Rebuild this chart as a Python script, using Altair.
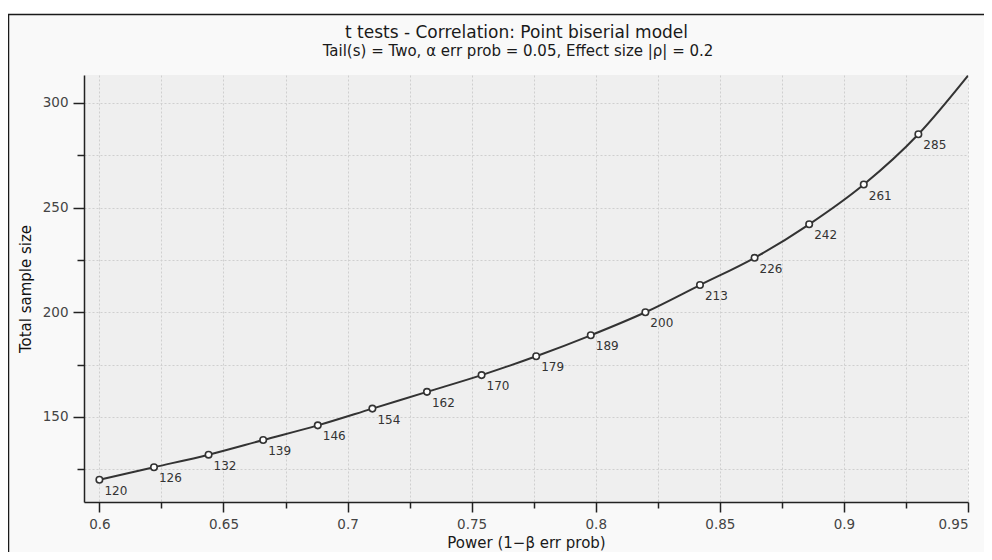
import altair as alt
import pandas as pd

# Data
power = [0.6, 0.622, 0.644, 0.666, 0.688, 0.71, 0.732, 0.754, 0.776, 0.798,
         0.82, 0.842, 0.864, 0.886, 0.908, 0.93]
total_n = [120, 126, 132, 139, 146, 154, 162, 170, 179, 189,
           200, 213, 226, 242, 261, 285]
# curve continues to the right edge of the plot
curve_end_power = 0.95
curve_end_n = 313

x_ticks = [0.6, 0.625, 0.65, 0.675, 0.7, 0.725, 0.75, 0.775, 0.8, 0.825,
           0.85, 0.875, 0.9, 0.925, 0.95]
y_ticks = [125, 150, 175, 200, 225, 250, 275, 300]
x_domain = [0.5938, 0.95]
y_domain = [109.4, 313.3]

title_text = "t tests - Correlation: Point biserial model"
subtitle_text = "Tail(s) = Two, α err prob = 0.05, Effect size |ρ| = 0.2"

W, H = 884, 427
FONT = "DejaVu Sans"

pts = pd.DataFrame({"power": power, "n": total_n})
curve = pd.DataFrame({"power": power + [curve_end_power],
                      "n": total_n + [curve_end_n]})
one = pd.DataFrame({"k": [0]})

major_x = "abs(datum.value*20 - round(datum.value*20)) < 1e-6"
major_y = "datum.value % 50 == 0"

xscale = alt.Scale(domain=x_domain, nice=False, zero=False)
yscale = alt.Scale(domain=y_domain, nice=False, zero=False)

xaxis = alt.Axis(
    values=x_ticks, title="Power (1−β err prob)", format="~g",
    labelExpr=f"{major_x} ? datum.label : ''",
    tickSize={"condition": {"test": major_x, "value": 10}, "value": 6},
    grid=True, gridDash=[2, 2], gridColor="#cfcfcf", gridWidth=1,
    domainColor="#222", domainWidth=1.5, tickColor="#222", tickWidth=1.5,
    labelFont=FONT, labelFontSize=13.5, labelColor="#444", labelPadding=5,
    titleFont=FONT, titleFontSize=15, titleFontWeight="normal", titleColor="#1a1a1a",
    titlePadding=5,
)
yaxis = alt.Axis(
    values=y_ticks, title="Total sample size",
    labelExpr=f"{major_y} ? datum.label : ''",
    tickSize={"condition": {"test": major_y, "value": 11}, "value": 7},
    grid=True, gridDash=[2, 2], gridColor="#cfcfcf", gridWidth=1,
    domainColor="#222", domainWidth=1.5, tickColor="#222", tickWidth=1.5,
    labelFont=FONT, labelFontSize=13.5, labelColor="#444", labelPadding=5,
    titleFont=FONT, titleFontSize=15, titleFontWeight="normal", titleColor="#111",
    titlePadding=9,
)

strip = alt.Chart(one).mark_rect(fill="white", clip=False).encode(
    x=alt.value(-80), x2=alt.value(3000), y=alt.value(-70), y2=alt.value(-60.5)
)
frame = alt.Chart(one).mark_rect(fill="white", fillOpacity=0, stroke="#1a1a1a",
                                  strokeWidth=1.5, clip=False).encode(
    x=alt.value(-75.5), x2=alt.value(3000), y=alt.value(-60.5), y2=alt.value(3000)
)
title_mark = alt.Chart(one).mark_text(align="center", baseline="alphabetic",
                                      font=FONT, fontSize=17, color="#1a1a1a",
                                      clip=False).encode(
    x=alt.value(432.5), y=alt.value(-37), text=alt.value(title_text)
)
subtitle_mark = alt.Chart(one).mark_text(align="center", baseline="alphabetic",
                                         font=FONT, fontSize=15, color="#1a1a1a",
                                         clip=False).encode(
    x=alt.value(434), y=alt.value(-19), text=alt.value(subtitle_text)
)

line = alt.Chart(curve).mark_line(color="#333333", strokeWidth=2,
                                  interpolate="monotone", clip=True).encode(
    x=alt.X("power:Q", scale=xscale, axis=xaxis),
    y=alt.Y("n:Q", scale=yscale, axis=yaxis),
)
points = alt.Chart(pts).mark_point(shape="circle", filled=True, fill="white",
                                   stroke="#333333", strokeWidth=1.6, size=42,
                                   opacity=1).encode(
    x=alt.X("power:Q", scale=xscale),
    y=alt.Y("n:Q", scale=yscale),
)
labels = alt.Chart(pts).mark_text(align="left", baseline="middle", dx=5, dy=11,
                                  font=FONT, fontSize=12, color="#333").encode(
    x=alt.X("power:Q", scale=xscale),
    y=alt.Y("n:Q", scale=yscale),
    text=alt.Text("n:Q"),
)

chart = alt.layer(strip, frame, title_mark, subtitle_mark, line, points, labels).properties(
    width=W, height=H,
    autosize=alt.AutoSizeParams(type="none"),
    padding={"left": 76, "top": 67, "right": 16, "bottom": 50},
    background="#f9f9f9",
).configure_view(fill="#efefef", stroke=None)

chart.save("out.html", embed_options={"renderer": "svg", "actions": False})
